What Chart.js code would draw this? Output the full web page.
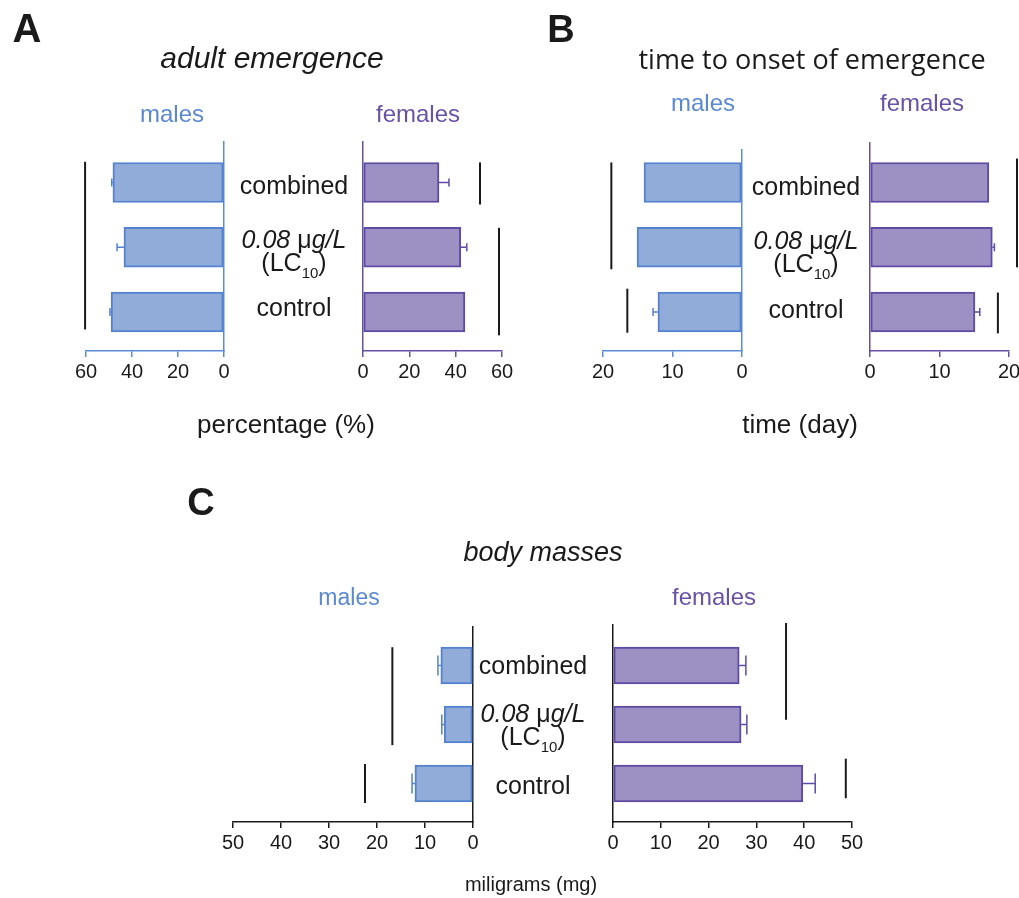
<!DOCTYPE html>
<html>
<head>
<meta charset="utf-8">
<script src="https://cdn.jsdelivr.net/npm/chart.js@4.4.1/dist/chart.umd.min.js"></script>
<style>
  body { margin: 0; background: #fff; }
  #fig { position: relative; width: 1019px; height: 898px; overflow: hidden; font-family: 'Liberation Sans', Arial, sans-serif; color: #1a1a1a; }
  .layer { position: absolute; left: 0; top: 0; width: 1060px; height: 898px; }
  .t { position: absolute; transform: translate(-50%, -50%); white-space: nowrap; line-height: 1; }
  .panel { font-weight: bold; }
  .it { font-style: italic; }
  .up { font-style: normal; }
  .sub { font-size: 15px; position: relative; top: 7px; }
  .m { color: #5a88d2; }
  .f { color: #6951a8; }
</style>
</head>
<body>
<div id="fig">
  <div class="layer"><canvas id="emergeMales"></canvas></div>
  <div class="layer"><canvas id="emergeFemales"></canvas></div>
  <div class="layer"><canvas id="onsetMales"></canvas></div>
  <div class="layer"><canvas id="onsetFemales"></canvas></div>
  <div class="layer"><canvas id="massMales"></canvas></div>
  <div class="layer"><canvas id="massFemales"></canvas></div>

  <!-- A -->
  <div class="t panel" style="left:27px;top:28px;font-size:40px">A</div>
  <div class="t it" style="left:272px;top:58px;font-size:30px">adult emergence</div>
  <div class="t m" style="left:172px;top:114px;font-size:24px">males</div>
  <div class="t f" style="left:418px;top:114px;font-size:24px">females</div>
  <div class="t" style="left:294px;top:185px;font-size:25px">combined</div>
  <div class="t it" style="left:294px;top:239px;font-size:25px">0.08 <span class="up">μ</span>g/L</div>
  <div class="t" style="left:294px;top:262px;font-size:25px">(LC<span class="sub">10</span>)</div>
  <div class="t" style="left:294px;top:307px;font-size:25px">control</div>
  <div class="t" style="left:286px;top:424px;font-size:26px">percentage (%)</div>

  <!-- B -->
  <div class="t panel" style="left:561px;top:29px;font-size:38px">B</div>
  <div class="t" style="left:812px;top:58px;font-size:27px;font-family:'Open Sans',sans-serif">time to onset of emergence</div>
  <div class="t m" style="left:703px;top:103px;font-size:24px">males</div>
  <div class="t f" style="left:922px;top:103px;font-size:24px">females</div>
  <div class="t" style="left:806px;top:186px;font-size:25px">combined</div>
  <div class="t it" style="left:806px;top:240px;font-size:25px">0.08 <span class="up">μ</span>g/L</div>
  <div class="t" style="left:806px;top:263px;font-size:25px">(LC<span class="sub">10</span>)</div>
  <div class="t" style="left:806px;top:309px;font-size:25px">control</div>
  <div class="t" style="left:800px;top:424px;font-size:26px">time (day)</div>

  <!-- C -->
  <div class="t panel" style="left:201px;top:502px;font-size:38px">C</div>
  <div class="t it" style="left:543px;top:552px;font-size:27px">body masses</div>
  <div class="t m" style="left:349px;top:597px;font-size:23px">males</div>
  <div class="t f" style="left:714px;top:597px;font-size:24px">females</div>
  <div class="t" style="left:533px;top:665px;font-size:25px">combined</div>
  <div class="t it" style="left:533px;top:713px;font-size:25px">0.08 <span class="up">μ</span>g/L</div>
  <div class="t" style="left:533px;top:736px;font-size:25px">(LC<span class="sub">10</span>)</div>
  <div class="t" style="left:533px;top:785px;font-size:25px">control</div>
  <div class="t" style="left:531px;top:884px;font-size:20px">miligrams (mg)</div>
</div>

<script>
// groups, top to bottom
const groups = ['combined', '0.08 μg/L (LC10)', 'control'];

// adult emergence (%)
const emergeMales = [48.3, 43.5, 49.1];
const emergeMalesErr = [0.5, 3.0, 0.5];
const emergeFemales = [32.8, 42.2, 44.0];
const emergeFemalesErr = [4.3, 2.6, 0];

// time to onset of emergence (days)
const onsetMales = [14.1, 15.1, 12.1];
const onsetMalesErr = [0, 0, 0.7];
const onsetFemales = [17.1, 17.6, 15.1];
const onsetFemalesErr = [0, 0.3, 0.7];

// body masses (mg)
const massMales = [6.7, 6.0, 12.1];
const massMalesErr = [0.6, 0.5, 0.6];
const massFemales = [26.4, 26.8, 39.7];
const massFemalesErr = [1.4, 1.2, 2.6];

// significance bars: [value, from group, to group] (group units, 0 = combined)
const emergeMalesSig = [[60.4, -0.32, 2.27]];
const emergeFemalesSig = [[50.5, -0.31, 0.34], [58.7, 0.7, 2.36]];
const onsetMalesSig = [[18.8, -0.31, 1.34], [16.5, 1.64, 2.32]];
const onsetFemalesSig = [[21.15, -0.37, 1.31], [18.4, 1.7, 2.33]];
const massMalesSig = [[16.8, -0.31, 1.35], [22.5, 1.67, 2.33]];
const massFemalesSig = [[36.2, -0.72, 0.92], [48.7, 1.58, 2.25]];

// canvas size of each layer (wider than the page so edge labels never squeeze the plot)
const W = 1060, H = 898, XH = 32;

const MALE = { fill: '#91acd9', border: '#5582cf', axis: '#5b8bd5' };
const FEMALE = { fill: '#9d91c3', border: '#5f4ba4', axis: '#6650a6' };

Chart.defaults.font.family = "'Liberation Sans', Arial, sans-serif";
Chart.defaults.color = '#1a1a1a';

// one-sided error bars, drawn outward from the bar end
const errorBars = {
  id: 'errorBars',
  afterDatasetsDraw(chart) {
    const ds = chart.data.datasets[0];
    const meta = chart.getDatasetMeta(0);
    const x = chart.scales.x;
    const ctx = chart.ctx;
    ctx.save();
    ctx.strokeStyle = ds.borderColor;
    ctx.lineWidth = 1.5;
    meta.data.forEach((bar, i) => {
      const err = ds.errors[i];
      if (!err) return;
      const end = x.getPixelForValue(ds.data[i].x + err);
      ctx.beginPath();
      ctx.moveTo(bar.x, bar.y);
      ctx.lineTo(end, bar.y);
      ctx.moveTo(end, bar.y - ds.cap / 2);
      ctx.lineTo(end, bar.y + ds.cap / 2);
      ctx.stroke();
    });
    ctx.restore();
  }
};

// vertical black lines grouping bars
const sigLines = {
  id: 'sigLines',
  afterDatasetsDraw(chart) {
    const ds = chart.data.datasets[0];
    const { x, y } = chart.scales;
    const ctx = chart.ctx;
    ctx.save();
    ctx.strokeStyle = '#1a1a1a';
    ctx.lineWidth = 2;
    ds.sig.forEach(([v, from, to]) => {
      const px = x.getPixelForValue(v);
      ctx.beginPath();
      ctx.moveTo(px, y.getPixelForValue(from));
      ctx.lineTo(px, y.getPixelForValue(to));
      ctx.stroke();
    });
    ctx.restore();
  }
};

function barChart(id, p) {
  const axisColor = p.axisColor || p.colors.axis;
  // y runs in group units; first bar centre c0, spacing pitch (px)
  const yMin = (p.area.top - p.c0) / p.pitch;
  const yMax = (p.area.bottom - p.c0) / p.pitch;

  new Chart(document.getElementById(id), {
    type: 'bar',
    data: {
      datasets: [{
        data: p.values.map((v, i) => ({ x: v, y: i })),
        errors: p.errors,
        sig: p.sig,
        cap: p.cap,
        backgroundColor: p.colors.fill,
        borderColor: p.colors.border,
        borderWidth: 2,
        borderSkipped: false,
        barThickness: p.barThickness
      }]
    },
    options: {
      indexAxis: 'y',
      responsive: true,
      maintainAspectRatio: false,
      animation: false,
      events: [],
      layout: {
        padding: {
          left: p.area.left,
          right: W - p.area.right,
          top: p.area.top,
          bottom: H - p.area.bottom - XH
        }
      },
      plugins: { legend: { display: false }, tooltip: { enabled: false } },
      scales: {
        x: {
          type: 'linear',
          min: 0,
          max: p.max,
          reverse: p.reverse,
          afterFit: s => { s.height = XH; },
          border: { display: true, color: axisColor, width: 1.5 },
          grid: { drawOnChartArea: false, drawTicks: true, tickLength: 6, color: axisColor, lineWidth: 1.5 },
          ticks: { stepSize: p.step, padding: 3, font: { size: 20 }, color: '#1a1a1a', maxRotation: 0 }
        },
        y: {
          type: 'linear',
          position: p.reverse ? 'right' : 'left',
          min: yMin,
          max: yMax,
          reverse: true,
          offset: false,
          afterFit: s => { s.width = 0; },
          border: { display: true, color: axisColor, width: 1.5 },
          grid: { display: false, offset: false },
          ticks: { display: false }
        }
      }
    },
    plugins: [errorBars, sigLines]
  });
}

const rowsAB = { c0: 182.5, pitch: 64.75, barThickness: 40, cap: 8 };
const rowsC = { c0: 665.5, pitch: 59, barThickness: 37, cap: 20 };

barChart('emergeMales', { ...rowsAB, area: { left: 86, right: 224, top: 142, bottom: 351 },
  values: emergeMales, errors: emergeMalesErr, sig: emergeMalesSig, max: 60, step: 20, reverse: true, colors: MALE });
barChart('emergeFemales', { ...rowsAB, area: { left: 363, right: 502, top: 142, bottom: 351 },
  values: emergeFemales, errors: emergeFemalesErr, sig: emergeFemalesSig, max: 60, step: 20, reverse: false, colors: FEMALE });
barChart('onsetMales', { ...rowsAB, area: { left: 603, right: 742, top: 150, bottom: 351 },
  values: onsetMales, errors: onsetMalesErr, sig: onsetMalesSig, max: 20, step: 10, reverse: true, colors: MALE });
barChart('onsetFemales', { ...rowsAB, area: { left: 870, right: 1009, top: 143, bottom: 351 },
  values: onsetFemales, errors: onsetFemalesErr, sig: onsetFemalesSig, max: 20, step: 10, reverse: false, colors: FEMALE });
barChart('massMales', { ...rowsC, area: { left: 233, right: 473, top: 627, bottom: 822 },
  values: massMales, errors: massMalesErr, sig: massMalesSig, max: 50, step: 10, reverse: true, colors: MALE, axisColor: '#1a1a1a' });
barChart('massFemales', { ...rowsC, area: { left: 613, right: 852, top: 625, bottom: 822 },
  values: massFemales, errors: massFemalesErr, sig: massFemalesSig, max: 50, step: 10, reverse: false, colors: FEMALE, axisColor: '#1a1a1a' });
</script>
</body>
</html>
